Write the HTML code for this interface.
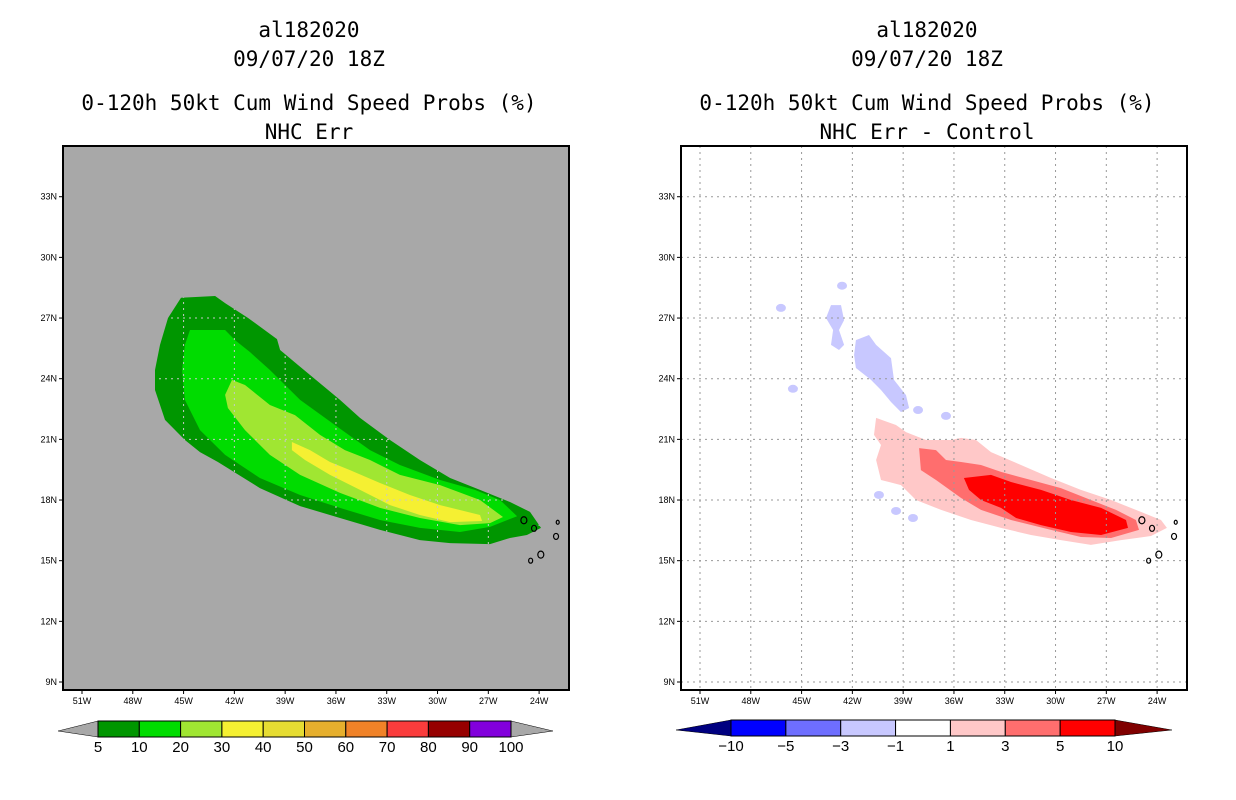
<!DOCTYPE html>
<html><head><meta charset="utf-8"><style>
html,body{margin:0;padding:0;background:#fff;}
svg{display:block;font-family:"DejaVu Sans Mono","Liberation Mono",monospace;}
.t{font-size:21px;text-anchor:middle;fill:#000;}
.ax{font-size:9px;fill:#000;font-family:"Liberation Sans",sans-serif;}
.cb{font-size:15px;text-anchor:middle;fill:#000;font-family:"Liberation Sans",sans-serif;}
</style></head><body>
<svg id="s" width="1236" height="800" viewBox="0 0 1236 800" xmlns="http://www.w3.org/2000/svg">
<defs><clipPath id="clipL"><polygon id="clipPoly" points=""/></clipPath></defs>
<g>
<text class="t" x="309" y="37">al182020</text>
<text class="t" x="309" y="66">09/07/20 18Z</text>
<text class="t" x="309" y="110">0-120h 50kt Cum Wind Speed Probs (%)</text>
<text class="t" x="309" y="139">NHC Err</text>
</g>
<g>
<text class="t" x="927" y="37">al182020</text>
<text class="t" x="927" y="66">09/07/20 18Z</text>
<text class="t" x="927" y="110">0-120h 50kt Cum Wind Speed Probs (%)</text>
<text class="t" x="927" y="139">NHC Err - Control</text>
</g>
<g id="L"></g>
<g id="R"></g>
<g id="CL"></g>
<g id="CR"></g>
</svg>
<script>
const lonTicks=[51,48,45,42,39,36,33,30,27,24];
const latTicks=[33,30,27,24,21,18,15,12,9];
// probability contours (lon W, lat N)
const p5=[[45.15,28.0],[43.14,28.09],[42.55,27.74],[41.19,27.0],[39.48,25.96],[39.3,25.42],[38.24,24.68],[36.82,23.69],[35.76,22.95],[34.58,22.06],[32.81,20.97],[31.04,19.98],[29.26,19.09],[27.49,18.5],[25.72,17.9],[24.54,17.41],[23.89,16.62],[24.72,16.27],[25.72,16.12],[26.9,15.82],[29.26,15.87],[31.04,16.02],[33.4,16.52],[35.76,17.11],[38.12,17.7],[40.49,18.59],[42.97,19.88],[44.03,20.37],[44.92,20.97],[46.1,21.96],[46.69,23.44],[46.69,24.43],[46.39,25.67],[45.92,27.0]];
const p10=[[44.62,26.41],[42.55,26.41],[41.96,25.91],[41.08,25.32],[39.9,24.43],[38.12,22.95],[36.06,21.71],[33.99,20.47],[32.22,19.73],[29.85,18.99],[27.79,18.5],[26.31,18.0],[25.3,17.2],[26.9,16.67],[28.67,16.42],[31.04,16.62],[33.4,17.01],[35.76,17.61],[38.12,18.25],[40.49,19.09],[42.55,20.23],[44.03,21.46],[44.92,22.95],[45.09,24.43],[44.92,25.67]];
const p20=[[42.14,23.94],[41.37,23.69],[39.9,22.7],[38.42,22.2],[36.94,21.22],[35.47,20.47],[33.99,19.98],[32.22,19.24],[29.85,18.74],[27.49,18.0],[26.13,17.16],[26.9,16.86],[28.67,16.76],[31.04,17.11],[33.4,17.61],[35.76,18.35],[38.12,19.24],[39.9,20.23],[41.37,21.46],[42.38,22.55],[42.55,23.2]];
const p30=[[38.6,20.87],[37.53,20.47],[36.35,19.88],[35.17,19.48],[33.4,18.84],[31.63,18.25],[29.85,17.75],[27.49,17.26],[27.37,16.96],[29.26,16.91],[31.04,17.26],[32.81,17.75],[34.58,18.5],[36.35,19.24],[37.83,19.98],[38.6,20.47]];
// difference contours
const d1=[[40.6,22.06],[39.42,21.71],[38.83,21.36],[37.65,20.97],[36.17,20.97],[35.58,21.07],[34.7,20.97],[33.81,20.37],[32.04,19.73],[30.27,19.09],[28.5,18.5],[26.72,18.0],[25.25,17.51],[23.77,17.01],[23.42,16.62],[24.36,16.22],[26.13,16.02],[27.91,15.78],[29.68,16.02],[31.45,16.27],[33.22,16.62],[34.99,17.01],[36.76,17.51],[38.24,18.0],[39.13,18.74],[40.31,18.99],[40.6,19.98],[40.31,20.72],[40.72,21.22]];
const d3=[[38.06,20.57],[37.06,20.47],[36.47,19.98],[35.58,19.88],[34.4,19.73],[33.22,19.39],[31.45,18.99],[29.68,18.59],[27.91,18.0],[26.43,17.51],[25.25,17.01],[25.07,16.52],[26.72,16.12],[28.5,16.17],[30.27,16.52],[32.63,17.01],[34.4,17.51],[35.58,18.1],[37.06,18.99],[37.95,19.48]];
const d5=[[35.41,19.09],[33.81,19.24],[32.63,18.89],[30.86,18.5],[29.09,18.0],[27.31,17.61],[25.84,17.01],[25.72,16.62],[27.31,16.27],[29.09,16.42],[30.86,16.76],[32.33,17.11],[33.22,17.61],[34.4,18.0],[35.11,18.5]];
const n1a=[[43.26,27.64],[42.67,27.64],[42.49,26.9],[42.79,26.41],[42.49,25.67],[42.79,25.42],[43.26,25.67],[43.14,26.41],[43.56,27.0]];
const n1b=[[41.79,25.91],[41.02,26.16],[40.6,25.67],[39.72,25.02],[39.54,23.94],[38.83,23.19],[38.65,22.55],[39.13,22.35],[39.72,22.85],[40.31,23.44],[40.9,23.94],[41.79,24.53],[41.9,25.17]];
const nBlobs=[[46.22,27.5],[38.12,22.45],[36.47,22.16],[40.43,18.25],[38.42,17.11],[39.42,17.46],[45.51,23.5],[42.61,28.6]];
const leftLevels=["5","10","20","30","40","50","60","70","80","90","100"];
const leftColors=["#009600","#00dc00","#a0e632","#f5f032","#e6dc32","#e6af2d","#f08228","#fa3c3c","#960000","#8200dc"];
const rightLevels=["-10","-5","-3","-1","1","3","5","10"];
const rightColors=["#0000ff","#6e6eff","#c8c8ff","#ffffff","#ffc8c8","#ff6e6e","#ff0000"];

const NS="http://www.w3.org/2000/svg";
function mk(parent,tag,attrs){const e=document.createElementNS(NS,tag);for(const k in attrs)e.setAttribute(k,attrs[k]);parent.appendChild(e);return e;}
const X0=63,X1=569,Y0=146,Y1=690;
function xs(lon,off){return off+82+(51-lon)*16.93;}
function ys(lat){return 682-(lat-9)*20.22;}
function pts(arr,off){return arr.map(p=>xs(p[0],off).toFixed(1)+","+ys(p[1]).toFixed(1)).join(" ");}

function panel(g,off,bg){
  const r=mk(g,'rect',{x:X0+off,y:Y0,width:X1-X0,height:Y1-Y0,fill:bg});
  
  
}
function grid(g,off,col,clip){
  const gg=mk(g,'g',{});
  if(clip) gg.setAttribute('clip-path','url(#clipL)');
  lonTicks.forEach(l=>{const x=xs(l,off);
    const ln=mk(gg,'line',{x1:x,x2:x,y1:Y0,y2:Y1,stroke:col,'stroke-width':1,'stroke-dasharray':'2,4'});
    
    
    mk(g,'line',{x1:x,x2:x,y1:Y1,y2:Y1+4,stroke:'#000'});
    const t=mk(g,'text',{class:'ax',x:x,y:Y1+14,'text-anchor':'middle'});t.textContent=l+"W";
    
    
  });
  latTicks.forEach(l=>{const y=ys(l);
    const ln=mk(gg,'line',{x1:X0+off,x2:X1+off,y1:y,y2:y,stroke:col,'stroke-width':1,'stroke-dasharray':'2,4'});
    
    
    mk(g,'line',{x1:X0+off-4,x2:X0+off,y1:y,y2:y,stroke:'#000'});
    const t=mk(g,'text',{class:'ax',x:X0+off-6,y:y+3,'text-anchor':'end'});t.textContent=l+"N";
    
    
  });
}
function poly(g,arr,off,fill,name){
  const p=mk(g,'polygon',{points:pts(arr,off),fill:fill});
  
  
}
function border(g,off){
  const b=mk(g,'rect',{x:X0+off,y:Y0,width:X1-X0,height:Y1-Y0,fill:'none',stroke:'#000','stroke-width':2});
  
  
}
function scribbles(g,off){
  [[24.9,17.0,3],[24.3,16.6,2.5],[23.0,16.2,2.5],[23.9,15.3,3],[24.5,15.0,2],[22.9,16.9,1.5]].forEach(c=>{
    const e=mk(g,'ellipse',{cx:xs(c[0],off),cy:ys(c[1]),rx:c[2],ry:c[2]+0.5,fill:'none',stroke:'#000','stroke-width':1.2});
    
    
  });
}
// left
document.getElementById('clipPoly').setAttribute('points',pts(p5,0));
const L=document.getElementById('L');
panel(L,0,'#a8a8a8');
poly(L,p5,0,leftColors[0],'contour-5pct');
poly(L,p10,0,leftColors[1],'contour-10pct');
poly(L,p20,0,leftColors[2],'contour-20pct');
poly(L,p30,0,leftColors[3],'contour-30pct');
grid(L,0,'#c8c8c8',true);
scribbles(L,0);
border(L,0);
// right
const R=document.getElementById('R');
const RO=618;
panel(R,RO,'#ffffff');
poly(R,d1,RO,'#ffc8c8','diff-1-3');
poly(R,d3,RO,'#ff6e6e','diff-3-5');
poly(R,d5,RO,'#ff0000','diff-5-10');
poly(R,n1a,RO,'#c8c8ff','diff-neg-blob');
poly(R,n1b,RO,'#c8c8ff','diff-neg-blob');
nBlobs.forEach(b=>{
  const e=mk(R,'ellipse',{cx:xs(b[0],RO),cy:ys(b[1]),rx:5,ry:4,fill:'#c8c8ff'});
  
  
});
grid(R,RO,'#999',false);
scribbles(R,RO);
border(R,RO);
// colorbars
function colorbar(g,x0,x1,bx0,bx1,y0,y1,colors,labels,lc,rc,name){
  const n=colors.length, w=(bx1-bx0)/n, ym=(y0+y1)/2+2;
  const a=mk(g,'polygon',{points:`${x0},${ym} ${bx0},${y0} ${bx0},${y1}`,fill:lc,stroke:'#000','stroke-width':0.5});
  
  
  const b=mk(g,'polygon',{points:`${x1},${ym} ${bx1},${y0} ${bx1},${y1}`,fill:rc,stroke:'#000','stroke-width':0.5});
  
  
  colors.forEach((c,i)=>{
    const r=mk(g,'rect',{x:bx0+i*w,y:y0,width:w,height:y1-y0,fill:c,stroke:'#000','stroke-width':1});
    
    
  });
  labels.forEach((l,i)=>{
    const t=mk(g,'text',{class:'cb',x:bx0+i*w,y:y1+15});t.textContent=l.replace('-','\u2212');
    
    
  });
}
colorbar(document.getElementById('CL'),58,553,98,511,721,737,leftColors,leftLevels,'#a8a8a8','#a8a8a8','left-colorbar');
colorbar(document.getElementById('CR'),676,1172,731,1115,720,736,rightColors,rightLevels,'#000080','#800000','right-colorbar');
</script>
</body></html>
